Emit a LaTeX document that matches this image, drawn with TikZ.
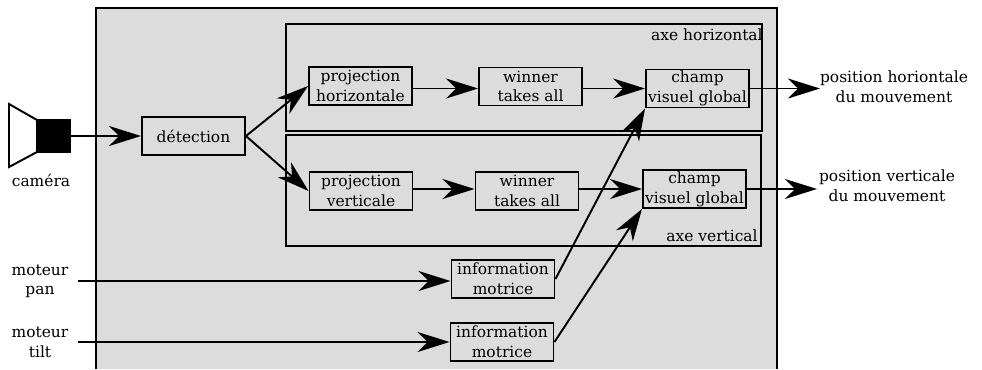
\documentclass[tikz,border=0pt]{standalone}
\usepackage{fontspec}
\setmainfont{DejaVu Serif}
\usetikzlibrary{arrows.meta}
\definecolor{fondgris}{HTML}{DCDCDC}
\tikzset{
    block/.style={rectangle, line width=1.1pt, draw=black, fill=fondgris, minimum width=2.06cm, minimum height=0.76cm, inner sep=0pt, align=center},
    flow/.style={-{Stealth[length=0.64cm, width=0.4cm, inset=0.2cm]}, line width=1.1pt},
    label/.style={inner sep=0pt, align=center}
}
\begin{document}
\begin{tikzpicture}[font=\fontsize{8.8}{11.2}\selectfont]
    \useasboundingbox (0,0) rectangle (19.64,7.38);
    % fond
    \fill[fondgris] (1.92,0) rectangle (15.54,7.22);
    \draw[line width=1.1pt] (1.92,0) -- (1.92,7.22) -- (15.54,7.22) -- (15.54,0);
    % axes
    \node[rectangle, line width=1.1pt, draw=black, minimum width=9.52cm, minimum height=2.14cm, inner sep=0pt] (axeh) at (10.48,5.83) {};
    \node[rectangle, line width=1.1pt, draw=black, minimum width=9.5cm, minimum height=2.22cm, inner sep=0pt] (axev) at (10.47,3.57) {};
    \node[label, anchor=east] (axehlabel) at (15.26,6.68) {axe horizontal};
    \node[label, anchor=east] (axevlabel) at (15.16,2.66) {axe vertical};
    % camera
    \draw[line width=1.1pt, fill=white] (0.18,5.3) -- (0.74,4.98) -- (0.74,4.34) -- (0.18,4.04) -- cycle;
    \node[rectangle, fill=black, minimum width=0.68cm, minimum height=0.68cm, inner sep=0pt] (cam) at (1.08,4.66) {};
    \node[label] (camlabel) at (0.82,3.78) {caméra};
    % blocs
    \node[block] (det) at (3.87,4.66) {détection};
    \node[block] (projh) at (7.21,5.66) {projection\\horizontale};
    \node[block] (projv) at (7.22,3.56) {projection\\verticale};
    \node[block] (winh) at (10.61,5.65) {winner\\takes all};
    \node[block] (winv) at (10.54,3.56) {winner\\takes all};
    \node[block] (champh) at (13.95,5.61) {champ\\visuel global};
    \node[block] (champv) at (13.89,3.6) {champ\\visuel global};
    \node[block] (infop) at (10.06,1.8) {information\\motrice};
    \node[block] (infot) at (10.04,0.54) {information\\motrice};
    % moteurs
    \node[label] (pan) at (0.8,1.75) {moteur\\pan};
    \node[label] (tilt) at (0.8,0.53) {moteur\\tilt};
    \coordinate (panout) at (1.56,1.76);
    \coordinate (tiltout) at (1.56,0.54);
    % sorties
    \node[label] (posh) at (17.88,5.64) {position horiontale\\du mouvement};
    \node[label] (posv) at (17.74,3.66) {position verticale\\du mouvement};
    \coordinate (posharrow) at (16.4,5.61);
    \coordinate (posvarrow) at (16.34,3.6);
    % connexions
    \draw[flow] (cam) -- (det);
    \draw[flow] (det.east) -- (projh.west);
    \draw[flow] (det.east) -- (projv.west);
    \draw[flow] (projh.east |- champh) -- (winh.west |- champh);
    \draw[flow] (winh.east |- champh) -- (champh);
    \draw[flow] (projv.east |- champv) -- (winv.west |- champv);
    \draw[flow] (winv.east |- champv) -- (champv);
    \draw[flow] (champh) -- (posharrow);
    \draw[flow] (champv) -- (posvarrow);
    \draw[flow] (panout) -- (panout -| infop.west);
    \draw[flow] (tiltout) -- (infot);
    \draw[flow] (infop.east) -- (champh.south west);
    \draw[flow] (infot.east) -- (champv.south west);
\end{tikzpicture}
\end{document}
